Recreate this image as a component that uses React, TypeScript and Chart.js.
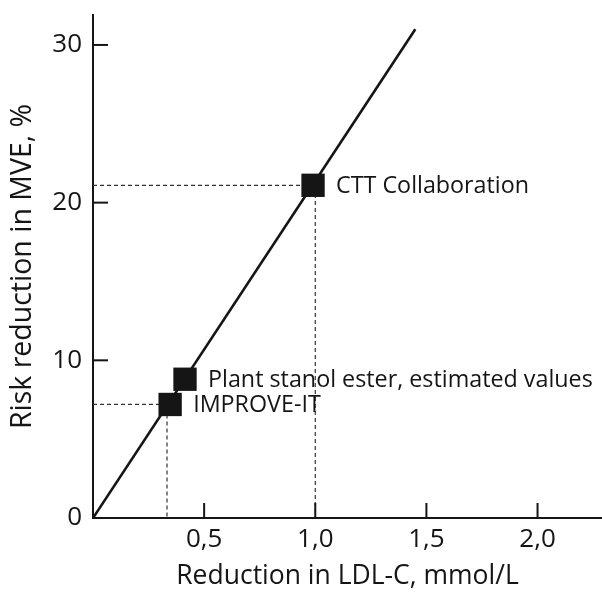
import { useEffect, useRef } from "react";
import { Chart, registerables } from "chart.js";

Chart.register(...registerables);

const FONT = "'Open Sans', sans-serif";
const INK = "#151515";

// Regression line (Reduction in LDL-C vs risk reduction)
const lineX = [0, 1.45];
const lineY = [0, 31];

// Studies
const studyNames = ["IMPROVE-IT", "Plant stanol ester, estimated values", "CTT Collaboration"];
const studyX = [0.347, 0.414, 0.99];
const studyY = [7.2, 8.8, 21.1];

// Dashed guide lines
const guideX = [0.333, 1.0];
const guideY = [7.2, 21.1];

// Ticks
const xTickValues = [0.5, 1.0, 1.5, 2.0];
const xTickLabels = ["0,5", "1,0", "1,5", "2,0"];
const yTickValues = [0, 10, 20, 30];
const yTickLabels = ["0", "10", "20", "30"];

const xTitle = "Reduction in LDL-C, mmol/L";
const yTitle = "Risk reduction in MVE, %";

export default function App() {
  const ref = useRef<HTMLCanvasElement>(null);

  useEffect(() => {
    if (!ref.current) return;

    const guideSets = guideX.map((gx, i) => ({
      type: "line" as const,
      data: [
        { x: 0, y: guideY[i] },
        { x: gx, y: guideY[i] },
        { x: gx, y: 0 },
      ],
      borderColor: "#333",
      borderWidth: 1.2,
      borderDash: [4, 3],
      pointRadius: 0,
      fill: false,
      order: 3,
    }));

    const innerTicks = {
      id: "innerTicks",
      afterDatasetsDraw(chart: any) {
        const { ctx, chartArea: a, scales } = chart;
        const x = scales.x;
        const y = scales.y;
        ctx.save();
        ctx.strokeStyle = INK;
        ctx.lineWidth = 2;
        xTickValues.forEach((v) => {
          const px = x.getPixelForValue(v);
          ctx.beginPath();
          ctx.moveTo(px, a.bottom);
          ctx.lineTo(px, a.bottom - 15);
          ctx.stroke();
        });
        yTickValues.forEach((v) => {
          if (v === 0) return;
          const py = y.getPixelForValue(v);
          ctx.beginPath();
          ctx.moveTo(a.left, py);
          ctx.lineTo(a.left + 15, py);
          ctx.stroke();
        });
        const meta = chart.getDatasetMeta(chart.data.datasets.length - 1);
        ctx.font = `23.3px ${FONT}`;
        ctx.fillStyle = INK;
        ctx.textBaseline = "middle";
        ctx.textAlign = "left";
        meta.data.forEach((el: any, i: number) => {
          ctx.fillText(studyNames[i], el.x + 23, el.y + 1);
        });
        ctx.restore();
      },
    };

    const chart = new Chart(ref.current, {
      type: "scatter",
      data: {
        datasets: [
          ...guideSets,
          {
            type: "line" as const,
            data: lineX.map((v, i) => ({ x: v, y: lineY[i] })),
            borderColor: INK,
            borderWidth: 2.6,
            pointRadius: 0,
            fill: false,
            order: 2,
          },
          {
            type: "scatter" as const,
            data: studyX.map((v, i) => ({ x: v, y: studyY[i] })),
            pointStyle: "rect",
            pointRadius: 16.5,
            pointBackgroundColor: INK,
            pointBorderColor: INK,
            pointBorderWidth: 0,
            order: 1,
          },
        ] as any,
      },
      options: {
        responsive: false,
        animation: false,
        events: [],
        layout: { autoPadding: false, padding: { top: 15, right: 0, left: 0, bottom: 0 } },
        plugins: {
          legend: { display: false },
          tooltip: { enabled: false },
        },
        scales: {
          x: {
            type: "linear",
            min: 0,
            max: 2.29,
            afterBuildTicks: (s: any) => {
              s.ticks = xTickValues.map((v) => ({ value: v }));
            },
            afterFit: (s: any) => {
              s.height = 74;
              s.paddingLeft = 0;
              s.paddingRight = 0;
            },
            grid: { display: false, drawTicks: false },
            border: { display: true, color: INK, width: 2 },
            ticks: {
              padding: 6,
              color: INK,
              font: { family: FONT, size: 26 },
              callback: (v: any) => {
                const i = xTickValues.indexOf(Number(v));
                return i >= 0 ? xTickLabels[i] : "";
              },
            },
            title: {
              display: true,
              text: xTitle,
              color: INK,
              font: { family: FONT, size: 26.5 },
              padding: { top: 0, bottom: 0 },
            },
          },
          y: {
            type: "linear",
            min: 0,
            max: 31.9,
            afterBuildTicks: (s: any) => {
              s.ticks = yTickValues.map((v) => ({ value: v }));
            },
            afterFit: (s: any) => {
              s.width = 93;
              s.paddingTop = 0;
              s.paddingBottom = 0;
            },
            grid: { display: false, drawTicks: false },
            border: { display: true, color: INK, width: 2 },
            ticks: {
              padding: 11,
              color: INK,
              font: { family: FONT, size: 26 },
              callback: (v: any) => {
                const i = yTickValues.indexOf(Number(v));
                return i >= 0 ? yTickLabels[i] : "";
              },
            },
            title: {
              display: true,
              text: yTitle,
              color: INK,
              font: { family: FONT, size: 28.5 },
              padding: { top: 6, bottom: 0 },
            },
          },
        },
      },
      plugins: [innerTicks],
    } as any);

    return () => chart.destroy();
  }, []);

  return (
    <div style={{ position: "fixed", left: 0, top: 0, width: 602, height: 592 }}>
      <canvas ref={ref} width={602} height={592} />
    </div>
  );
}
